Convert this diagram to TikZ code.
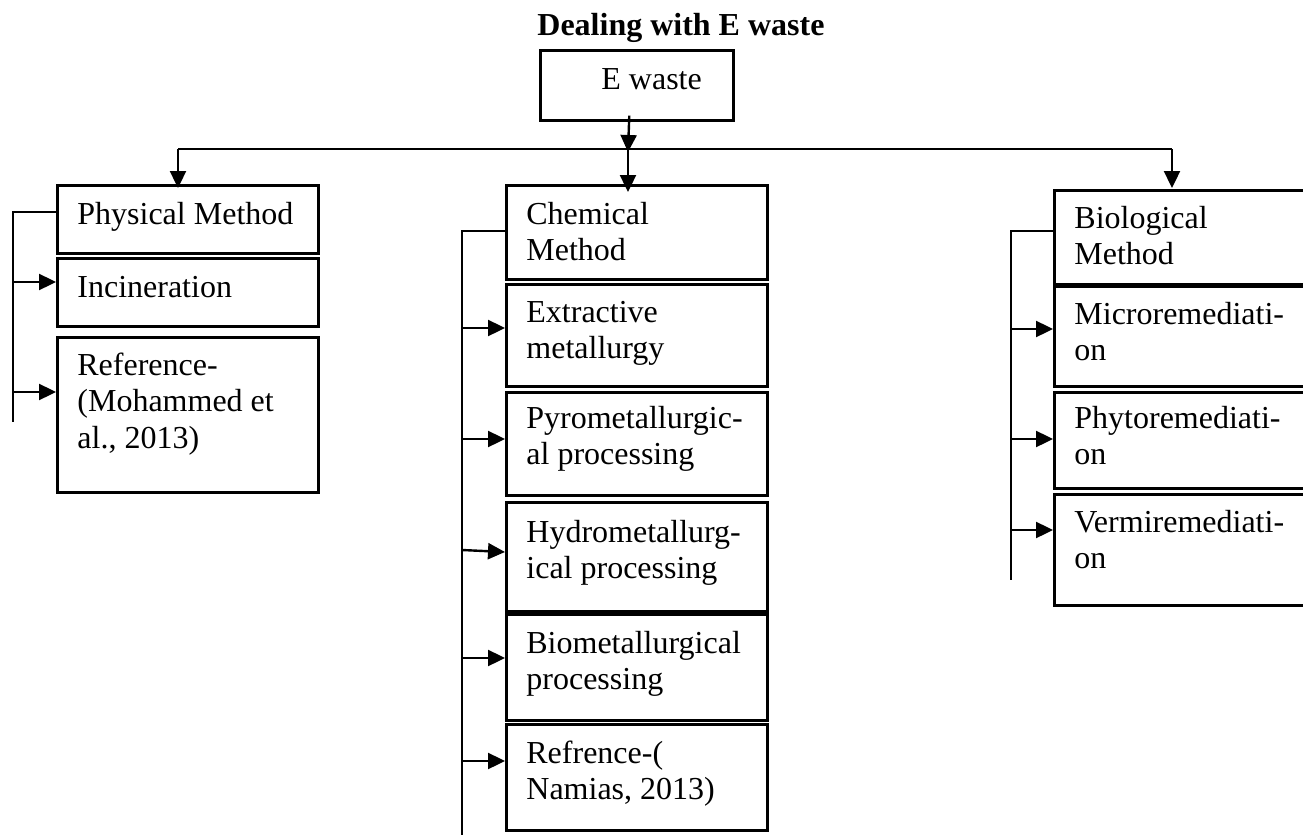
\documentclass[tikz,border=0pt]{standalone}
\usepackage{fontspec}
\setmainfont{Liberation Serif}
\usetikzlibrary{arrows.meta,calc}
\newcommand\lines[1]{\begin{tabular}[t]{@{}l@{}}#1\end{tabular}}
\begin{document}
\begin{tikzpicture}[x=0.5pt,y=-0.5pt,
  box/.style={draw,line width=1.3pt,inner sep=0pt,anchor=north west,minimum width=130.5pt},
  txt/.style={inner sep=0pt,anchor=base west,font=\fontsize{16}{18.4}\selectfont},
  conn/.style={line width=1.2pt},
  arr/.style={line width=1.2pt,-{Triangle[length=8.5pt,width=8pt]}}]
\path[use as bounding box] (0,0) rectangle (1303,835);
\clip (0,0) rectangle (1303,835);

% title
\node[txt] (title) at (537,35) {\textbf{Dealing with E waste}};

% boxes
\node[box,minimum width=96.5pt,minimum height=35pt] (ewaste) at (539,49) {};
\node[box,minimum height=34pt]   (phys)   at (56,184) {};
\node[box,minimum height=34pt]   (incin)  at (56,257) {};
\node[box,minimum height=77.5pt] (refM)   at (56,336) {};
\node[box,minimum height=47pt]   (chem)   at (505,184) {};
\node[box,minimum height=51pt]   (extr)   at (505,283) {};
\node[box,minimum height=51.5pt] (pyro)   at (505,391) {};
\node[box,minimum height=54.5pt] (hydro)  at (505,501) {};
\node[box,minimum height=53pt]   (biomet) at (505,613) {};
\node[box,minimum height=53pt]   (refN)   at (505,723) {};
\node[box,minimum height=47pt]   (bio)    at (1053,189) {};
\node[box,minimum height=50pt]   (micro)  at (1053,285) {};
\node[box,minimum height=48pt]   (phyto)  at (1053,391) {};
\node[box,minimum height=55.5pt] (vermi)  at (1053,493) {};

% texts
\node[txt] (t-ewaste) at (601,90) {E waste};
\node[txt] (t-phys)   at (77,224) {Physical Method};
\node[txt] (t-incin)  at (77,297) {Incineration};
\node[txt] (t-refM)   at (77,375) {\lines{Reference-\\(Mohammed et\\al., 2013)}};
\node[txt] (t-chem)   at (526,224) {\lines{Chemical\\Method}};
\node[txt] (t-extr)   at (526,322) {\lines{Extractive\\metallurgy}};
\node[txt] (t-pyro)   at (526,428) {\lines{Pyrometallurgic-\\al processing}};
\node[txt] (t-hydro)  at (526,542) {\lines{Hydrometallurg-\\ical processing}};
\node[txt] (t-biomet) at (526,653) {\lines{Biometallurgical\\processing}};
\node[txt] (t-refN)   at (526,763) {\lines{Refrence-(\\Namias, 2013)}};
\node[txt] (t-bio)    at (1074,228) {\lines{Biological\\Method}};
\node[txt] (t-micro)  at (1074,324) {\lines{Microremediati-\\on}};
\node[txt] (t-phyto)  at (1074,428) {\lines{Phytoremediati-\\on}};
\node[txt] (t-vermi)  at (1074,532) {\lines{Vermiremediati-\\on}};

% top distribution
\coordinate (busL) at (178,149);
\coordinate (busC) at (628,149);
\coordinate (busR) at (1172,149);
\draw[conn] (busL) -- (busR);
\draw[arr] ($(ewaste.south)+(-7.5,-6)$) -- ($(busC)+(0,3)$);
\draw[arr] (busL) -- ($(busL |- phys.north)+(0,4)$);
\draw[arr] (busC) -- ($(busC |- chem.north)+(0,8)$);
\draw[arr] (busR) -- ($(busR |- bio.north)+(0,-1)$);

% physical branch
\coordinate (pTop) at (13,212);
\coordinate (pEnd) at (13,422);
\draw[conn] (phys.west |- pTop) -- (pTop) -- (pEnd);
\coordinate (p1) at (13,282);
\coordinate (p2) at (13,392);
\draw[arr] (p1) -- (p1 -| incin.west);
\draw[arr] (p2) -- (p2 -| refM.west);

% chemical branch
\coordinate (cTop) at (462,231);
\coordinate (cEnd) at (462,840);
\draw[conn] (chem.west |- cTop) -- (cTop) -- (cEnd);
\coordinate (c1) at (462,328);
\coordinate (c2) at (462,439);
\coordinate (c3) at (462,550);
\coordinate (c4) at (462,658);
\coordinate (c5) at (462,761);
\draw[arr] (c1) -- (c1 -| extr.west);
\draw[arr] (c2) -- (c2 -| pyro.west);
\draw[arr] (c3) -- ($(c3 -| hydro.west)+(0,2)$);
\draw[arr] (c4) -- (c4 -| biomet.west);
\draw[arr] (c5) -- (c5 -| refN.west);

% biological branch
\coordinate (bTop) at (1011,231);
\coordinate (bEnd) at (1011,580);
\draw[conn] (bio.west |- bTop) -- (bTop) -- (bEnd);
\coordinate (b1) at (1011,329);
\coordinate (b2) at (1011,439);
\coordinate (b3) at (1011,530);
\draw[arr] (b1) -- (b1 -| micro.west);
\draw[arr] (b2) -- (b2 -| phyto.west);
\draw[arr] (b3) -- (b3 -| vermi.west);
\end{tikzpicture}
\end{document}
